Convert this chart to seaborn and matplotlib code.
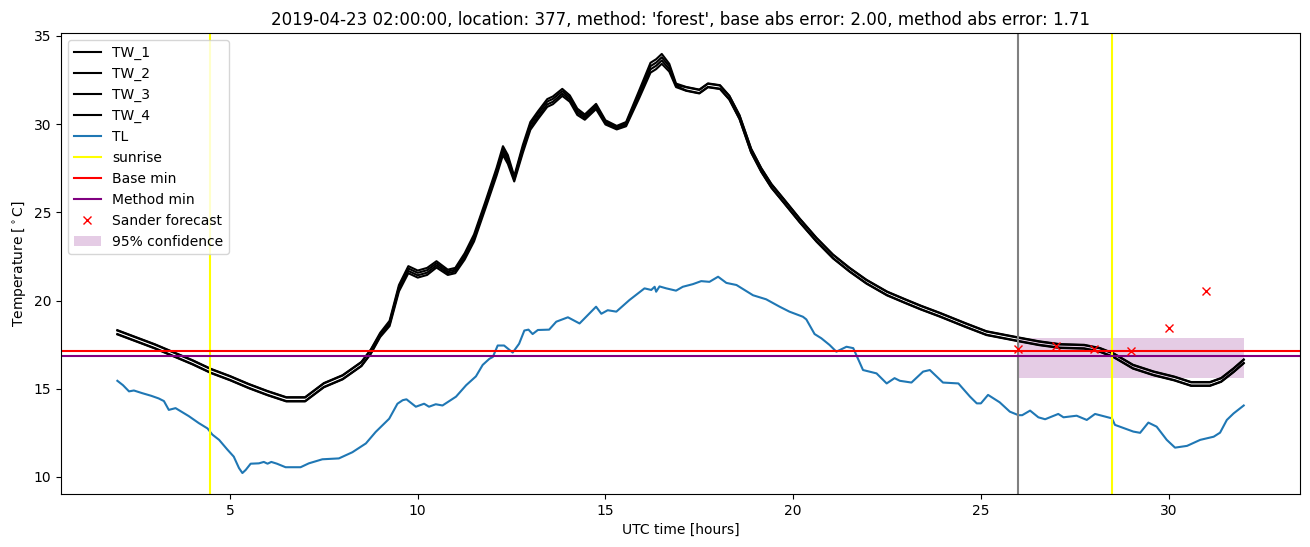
import matplotlib
matplotlib.use('Agg')
import matplotlib.pyplot as plt
import seaborn as sns

# hours since 2019-04-23 00:00 UTC
tw_hours = [2.0, 2.5, 3.0, 3.5, 4.0, 4.5, 5.0, 5.5, 6.0, 6.5, 7.0, 7.25, 7.5, 8.0, 8.5, 8.75,
            9.0, 9.25, 9.5, 9.75, 10.0, 10.25, 10.5, 10.8, 11.0, 11.25, 11.5, 11.8, 12.1, 12.27,
            12.4, 12.57, 12.8, 13.0, 13.2, 13.45, 13.6, 13.85, 14.05, 14.25, 14.45, 14.75, 15.0,
            15.3, 15.55, 15.9, 16.2, 16.35, 16.5, 16.7, 16.88, 17.15, 17.5, 17.73, 18.05, 18.3,
            18.57, 18.88, 19.15, 19.42, 19.73, 20.17, 20.62, 21.06, 21.5, 21.95, 22.5, 23.0,
            23.4, 23.9, 24.6, 25.15, 26.0, 26.55, 27.1, 27.75, 28.17, 28.53, 29.05, 29.6, 30.15,
            30.6, 31.1, 31.4, 31.73, 32.0]

tw_1 = [18.32, 17.92, 17.52, 17.07, 16.62, 16.12, 15.72, 15.27, 14.87, 14.52, 14.52, 14.92, 15.32,
        15.77, 16.52, 17.22, 18.17, 18.85, 20.88, 21.95, 21.7, 21.85, 22.23, 21.75, 21.85, 22.68,
        23.75, 25.6, 27.52, 28.75, 28.25, 27.05, 28.82, 30.12, 30.72, 31.42, 31.57, 32.0, 31.63,
        30.88, 30.55, 31.15, 30.22, 29.9, 30.12, 31.92, 33.48, 33.68, 33.98, 33.42, 32.3, 32.11,
        31.96, 32.31, 32.21, 31.61, 30.51, 28.61, 27.51, 26.61, 25.81, 24.66, 23.56, 22.61,
        21.86, 21.18, 20.51, 20.06, 19.71, 19.31, 18.71, 18.26, 17.91, 17.69, 17.53, 17.49,
        17.31, 17.01, 16.36, 15.98, 15.69, 15.38, 15.38, 15.61, 16.16, 16.66]
tw_2 = [18.3, 17.9, 17.5, 17.05, 16.6, 16.1, 15.7, 15.25, 14.85, 14.5, 14.5, 14.9, 15.3, 15.75,
        16.5, 17.2, 18.09, 18.75, 20.76, 21.82, 21.57, 21.72, 22.11, 21.65, 21.75, 22.56,
        23.62, 25.47, 27.38, 28.58, 28.08, 26.95, 28.68, 29.98, 30.58, 31.28, 31.43, 31.87, 31.51,
        30.76, 30.45, 31.05, 30.14, 29.83, 30.04, 31.78, 33.29, 33.49, 33.79, 33.28, 32.23, 32.09,
        31.94, 32.29, 32.19, 31.59, 30.49, 28.59, 27.49, 26.59, 25.79, 24.64, 23.54, 22.59,
        21.84, 21.16, 20.49, 20.04, 19.69, 19.29, 18.69, 18.24, 17.89, 17.67, 17.51, 17.47,
        17.29, 16.99, 16.34, 15.96, 15.67, 15.36, 15.36, 15.59, 16.14, 16.64]
tw_3 = [18.1, 17.7, 17.3, 16.85, 16.4, 15.9, 15.5, 15.05, 14.65, 14.3, 14.3, 14.7, 15.1, 15.55,
        16.3, 17.0, 18.01, 18.65, 20.64, 21.68, 21.43, 21.58, 21.99, 21.55, 21.65, 22.44,
        23.48, 25.33, 27.22, 28.42, 27.92, 26.85, 28.52, 29.82, 30.42, 31.12, 31.27, 31.73, 31.39,
        30.64, 30.35, 30.95, 30.06, 29.77, 29.96, 31.62, 33.11, 33.31, 33.61, 33.12, 32.17, 31.91,
        31.76, 32.11, 32.01, 31.41, 30.31, 28.41, 27.31, 26.41, 25.61, 24.46, 23.36, 22.41,
        21.66, 20.98, 20.31, 19.86, 19.51, 19.11, 18.51, 18.06, 17.71, 17.49, 17.33, 17.29,
        17.11, 16.81, 16.16, 15.78, 15.49, 15.18, 15.18, 15.41, 15.96, 16.46]
tw_4 = [18.08, 17.68, 17.28, 16.83, 16.38, 15.88, 15.48, 15.03, 14.63, 14.28, 14.28, 14.68, 15.08,
        15.53, 16.28, 16.98, 17.93, 18.55, 20.52, 21.55, 21.3, 21.45, 21.87, 21.45, 21.55, 22.32,
        23.35, 25.2, 27.08, 28.25, 27.75, 26.75, 28.38, 29.68, 30.28, 30.98, 31.13, 31.6, 31.27,
        30.52, 30.25, 30.85, 29.98, 29.7, 29.88, 31.48, 32.92, 33.12, 33.42, 32.98, 32.1, 31.89,
        31.74, 32.09, 31.99, 31.39, 30.29, 28.39, 27.29, 26.39, 25.59, 24.44, 23.34, 22.39,
        21.64, 20.96, 20.29, 19.84, 19.49, 19.09, 18.49, 18.04, 17.69, 17.47, 17.31, 17.27,
        17.09, 16.79, 16.14, 15.76, 15.47, 15.16, 15.16, 15.39, 15.94, 16.44]

tl_hours = [2.0, 2.15, 2.31, 2.44, 2.66, 2.9, 3.1, 3.24, 3.37, 3.55, 3.9, 4.17, 4.4, 4.53, 4.71,
            4.93, 5.1, 5.24, 5.33, 5.42, 5.55, 5.77, 5.9, 6.0, 6.1, 6.25, 6.48, 6.88, 7.1, 7.46,
            7.9, 8.26, 8.62, 8.88, 9.24, 9.46, 9.6, 9.7, 9.95, 10.17, 10.3, 10.48, 10.66, 11.02,
            11.29, 11.55, 11.73, 11.91, 12.0, 12.13, 12.3, 12.53, 12.7, 12.84, 12.95, 13.06, 13.2,
            13.5, 13.69, 14.0, 14.31, 14.75, 14.89, 15.06, 15.29, 15.64, 16.04, 16.22, 16.31,
            16.35, 16.44, 16.62, 16.88, 17.06, 17.33, 17.55, 17.77, 18.0, 18.22, 18.49, 18.93,
            19.28, 19.64, 19.9, 20.26, 20.35, 20.57, 20.75, 20.97, 21.15, 21.42, 21.6, 21.86,
            22.22, 22.49, 22.7, 22.84, 23.15, 23.46, 23.64, 23.99, 24.4, 24.71, 24.89, 25.0,
            25.19, 25.5, 25.77, 26.0, 26.1, 26.31, 26.53, 26.71, 27.06, 27.2, 27.55, 27.82,
            28.04, 28.49, 28.57, 29.06, 29.24, 29.46, 29.68, 29.95, 30.17, 30.49, 30.84, 31.2,
            31.37, 31.55, 31.73, 32.0]
tl = [15.45, 15.2, 14.85, 14.9, 14.75, 14.6, 14.45, 14.3, 13.8, 13.9, 13.45, 13.05, 12.75, 12.4,
      12.1, 11.55, 11.15, 10.5, 10.22, 10.4, 10.75, 10.77, 10.85, 10.75, 10.85, 10.75, 10.55,
      10.55, 10.77, 11.0, 11.05, 11.4, 11.9, 12.55, 13.3, 14.15, 14.35, 14.4, 13.98, 14.15,
      13.98, 14.12, 14.05, 14.55, 15.2, 15.7, 16.35, 16.7, 16.8, 17.45, 17.45, 17.05, 17.55,
      18.3, 18.35, 18.1, 18.33, 18.35, 18.8, 19.05, 18.7, 19.65, 19.25, 19.45, 19.37, 20.03,
      20.69, 20.6, 20.78, 20.5, 20.8, 20.69, 20.56, 20.78, 20.93, 21.1, 21.06, 21.35, 21.0,
      20.88, 20.3, 20.07, 19.65, 19.37, 19.08, 18.93, 18.1, 17.86, 17.48, 17.1, 17.38, 17.3,
      16.06, 15.87, 15.3, 15.6, 15.45, 15.35, 15.97, 16.06, 15.35, 15.3, 14.55, 14.17, 14.17,
      14.65, 14.23, 13.7, 13.5, 13.5, 13.76, 13.38, 13.27, 13.57, 13.38, 13.47, 13.23, 13.57,
      13.32, 12.95, 12.57, 12.5, 13.08, 12.85, 12.1, 11.66, 11.76, 12.1, 12.28, 12.51, 13.23,
      13.6, 14.05]

sunrise_hours = [4.47, 28.5]
forecast_time = 26.0
base_min = 17.15
method_min = 16.86
sander_hours = [26, 27, 28, 29, 30, 31]
sander_temp = [17.23, 17.44, 17.23, 17.14, 18.42, 20.54]
conf_hours = [26.0, 32.0]
conf_low = [15.6, 15.6]
conf_high = [17.85, 17.85]

title = ("2019-04-23 02:00:00, location: 377, method: 'forest', "
         "base abs error: 2.00, method abs error: 1.71")

fig, ax = plt.subplots(figsize=(13.1, 5.47), dpi=100)
fig.subplots_adjust(left=0.0466, right=0.9924, top=0.9397, bottom=0.0969)

for name, vals in zip(['TW_1', 'TW_2', 'TW_3', 'TW_4'], [tw_1, tw_2, tw_3, tw_4]):
    sns.lineplot(x=tw_hours, y=vals, ax=ax, color='black', label=name)
sns.lineplot(x=tl_hours, y=tl, ax=ax, color='tab:blue', label='TL')

for i, h in enumerate(sunrise_hours):
    ax.axvline(h, color='yellow', label='sunrise' if i == 0 else None)
ax.axvline(forecast_time, color='gray')
ax.axhline(base_min, color='red', label='Base min')
ax.axhline(method_min, color='purple', label='Method min')
ax.plot(sander_hours, sander_temp, 'x', color='red', label='Sander forecast')
ax.fill_between(conf_hours, conf_low, conf_high, color='purple', alpha=0.2,
                linewidth=0, label='95% confidence')

ax.set_title(title)
ax.set_xlabel('UTC time [hours]')
ax.set_ylabel(r'Temperature [$^\circ$C]')
ax.legend(loc='upper left')

fig.savefig('out.png', dpi=100)
